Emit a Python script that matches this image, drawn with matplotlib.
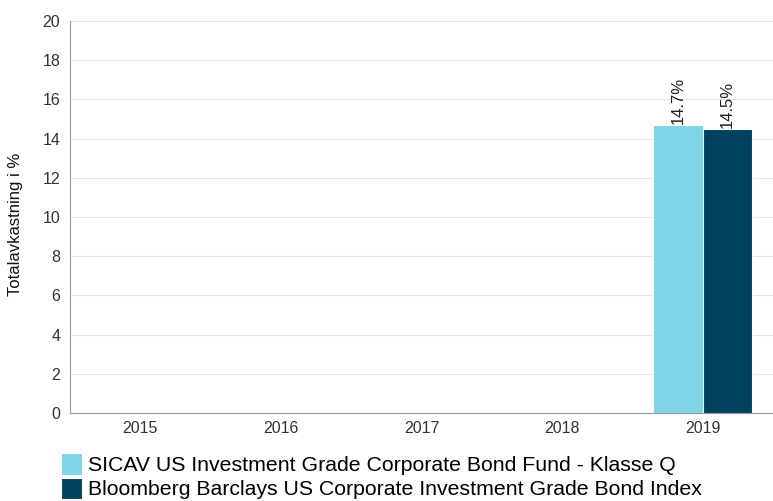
import matplotlib.pyplot as plt
import numpy as np

plt.rcParams['font.family'] = ['Liberation Sans', 'DejaVu Sans']

# Data
years = ['2015', '2016', '2017', '2018', '2019']
fund = [np.nan, np.nan, np.nan, np.nan, 14.7]
index = [np.nan, np.nan, np.nan, np.nan, 14.5]
fund_name = 'SICAV US Investment Grade Corporate Bond Fund - Klasse Q'
index_name = 'Bloomberg Barclays US Corporate Investment Grade Bond Index'

fund_color = '#7fd4e6'
index_color = '#00425e'

fig = plt.figure(figsize=(7.73, 5.01), dpi=100)
ax = fig.add_axes([0.0906, 0.1756, 0.9094, 0.7824])

x = np.arange(len(years))
w = 0.35
b1 = ax.bar(x - w / 2, fund, w, color=fund_color, edgecolor='white', linewidth=0.8, label=fund_name, zorder=3)
b2 = ax.bar(x + w / 2, index, w, color=index_color, edgecolor='white', linewidth=0.8, label=index_name, zorder=3)

for bars, vals in ((b1, fund), (b2, index)):
    for rect, v in zip(bars, vals):
        if np.isnan(v):
            continue
        ax.text(rect.get_x() + rect.get_width() / 2, v + 0.05, f'{v:.1f}%',
                rotation=90, ha='center', va='bottom', fontsize=12, color='#222222')

ax.set_xlim(-0.5, len(years) - 0.5)
ax.set_ylim(0, 20)
ax.set_yticks(range(0, 21, 2))
ax.set_xticks(x)
ax.set_xticklabels(years)
ax.tick_params(axis='y', length=0, labelsize=11.5, colors='#333333', pad=7)
ax.tick_params(axis='x', length=0, labelsize=11.5, colors='#333333', pad=6)
ax.yaxis.grid(True, color='#e6e6e6', linewidth=0.8, zorder=0)
ax.set_axisbelow(True)
for side in ('top', 'right'):
    ax.spines[side].set_visible(False)
for side in ('left', 'bottom'):
    ax.spines[side].set_color('#999999')
    ax.spines[side].set_linewidth(0.8)
ax.set_ylabel('Totalavkastning i %', fontsize=12, color='#111111')
ax.yaxis.set_label_coords(-0.067, 0.48)

fig.legend(handles=[b1, b2], loc='lower left', bbox_to_anchor=(0.0789, 0.003),
           frameon=False, fontsize=15.3, handlelength=1.0, handleheight=1.15,
           handletextpad=0.28, labelspacing=0.12, borderpad=0, borderaxespad=0)

fig.savefig('out.png', dpi=100)
